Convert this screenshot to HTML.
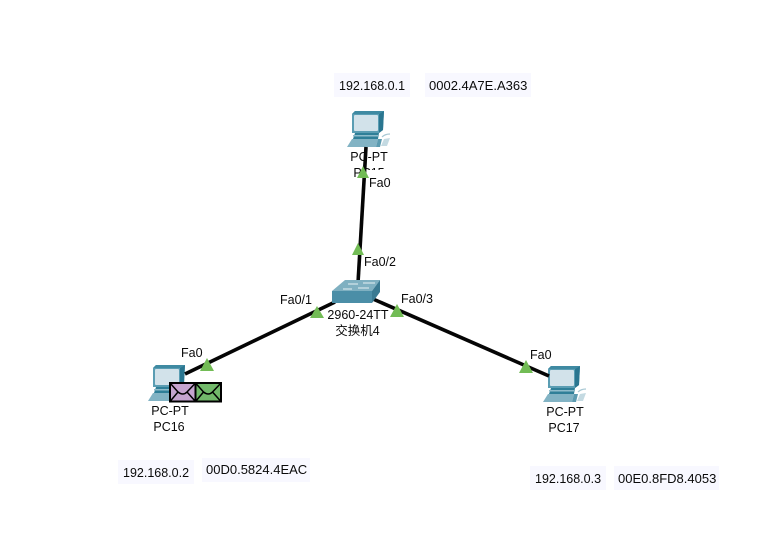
<!DOCTYPE html>
<html><head><meta charset="utf-8"><style>
html,body{margin:0;padding:0;background:#fff;width:757px;height:533px;overflow:hidden}
svg{display:block}
text{font-family:"Liberation Sans","Noto Sans CJK SC",sans-serif;font-size:12.5px;fill:#0a0a0a}
.m{text-anchor:middle}
.b{fill:#f8f8ff}
.t{fill:#72bc55}
.l{stroke:#050505;stroke-width:3.6;fill:none}
</style></head><body>
<svg width="757" height="533" viewBox="0 0 757 533" xmlns="http://www.w3.org/2000/svg">
<defs>
<g id="pc">
<polygon points="5,3 8,0 37,0 36,19 32,22 5,22" fill="#5a9db3"/>
<polygon points="32,3 37,0 36,19 32,22" fill="#2a7690"/>
<polygon points="5,3 8,0 37,0 32,3" fill="#3f8aa2"/>
<rect x="7" y="4" width="24" height="16" rx="1" fill="#d2e2ea"/>
<polygon points="8,22 32,22 31,28 6,28" fill="#2f7f98"/>
<rect x="6" y="24" width="25" height="1.500" fill="#8fbccb"/>
<polygon points="5,28 31,28 29,36 0,36" fill="#82b3c4"/>
<polygon points="29,36 31,28 35,28 33,36" fill="#5c9bb0"/>
<path d="M35,26 q3,-3 8,-3" stroke="#a8c8d4" stroke-width="1.200" fill="none"/>
<polygon points="37,28 43,27 40,35 34,35" fill="#c4dae2"/>
</g>
</defs>

<rect class="b" x="334" y="73" width="76" height="24"/>
<rect class="b" x="425" y="73" width="106" height="24"/>
<rect class="b" x="118" y="460" width="76" height="24"/>
<rect class="b" x="202" y="458" width="108" height="24"/>
<rect class="b" x="530" y="466" width="76" height="24"/>
<rect class="b" x="614" y="466" width="105" height="24"/>
<text x="339" y="90">192.168.0.1</text>
<text x="429" y="90" style="font-size:13px">0002.4A7E.A363</text>
<text x="123" y="477">192.168.0.2</text>
<text x="206" y="474" style="font-size:13px">00D0.5824.4EAC</text>
<text x="535" y="483">192.168.0.3</text>
<text x="618" y="483" style="font-size:13px">00E0.8FD8.4053</text>

<use href="#pc" x="347" y="111"/>
<use href="#pc" x="148" y="365"/>
<use href="#pc" x="543" y="366"/>

<text class="m" x="369" y="161">PC-PT</text>
<text class="m" x="369" y="177">PC15</text>
<text class="m" x="170" y="415">PC-PT</text>
<text class="m" x="169" y="431">PC16</text>
<text class="m" x="565" y="416">PC-PT</text>
<text class="m" x="564" y="432">PC17</text>

<line class="l" x1="366" y1="147" x2="358" y2="283"/>
<line class="l" x1="185" y1="374" x2="335" y2="302"/>
<line class="l" x1="549" y1="376" x2="373" y2="299"/>

<rect x="367" y="170" width="28" height="22" fill="#fff"/>
<polygon class="t" points="363,166 369,178 357,178"/>
<polygon class="t" points="358,243 364,255 352,255"/>
<polygon class="t" points="317,306 324,318 310,318"/>
<polygon class="t" points="397,304 404,317 390,317"/>
<polygon class="t" points="207,358 214,371 200,371"/>
<polygon class="t" points="526,360 533,373 519,373"/>

<polygon points="332,291 345,280 380,280 372,291" fill="#7fb0c1"/>
<polygon points="332,291 372,291 372,303 332,303" fill="#4b8ea7"/>
<polygon points="372,291 380,280 380,292 372,303" fill="#3a7a92"/>
<g stroke="#e4f0f4" stroke-width="1">
<line x1="348" y1="284" x2="358" y2="284"/>
<line x1="363" y1="283" x2="375" y2="283"/>
<line x1="343" y1="289" x2="352" y2="289"/>
<line x1="358" y1="288" x2="369" y2="288"/>
</g>

<text x="369" y="187">Fa0</text>
<text x="364" y="266">Fa0/2</text>
<text x="280" y="304">Fa0/1</text>
<text x="401" y="303">Fa0/3</text>
<text x="181" y="357">Fa0</text>
<text x="530" y="359">Fa0</text>
<text class="m" x="358" y="319">2960-24TT</text>
<text class="m" x="357.500" y="335">交换机4</text>

<rect x="170" y="383" width="25.500" height="18.500" fill="#c5a4cf" stroke="#000" stroke-width="2"/>
<rect x="195.500" y="383" width="25.500" height="18.500" fill="#72b96a" stroke="#000" stroke-width="2"/>
<path d="M170,383 L178,392 Q183,396 187,392 L195.500,383 M170,401.500 L178,392 M195.500,401.500 L187,392" fill="none" stroke="#000" stroke-width="1.500"/>
<path d="M195.500,383 L203.500,392 Q208.500,396 212.500,392 L221,383 M195.500,401.500 L203.500,392 M221,401.500 L212.500,392" fill="none" stroke="#000" stroke-width="1.500"/>
</svg>
</body></html>
